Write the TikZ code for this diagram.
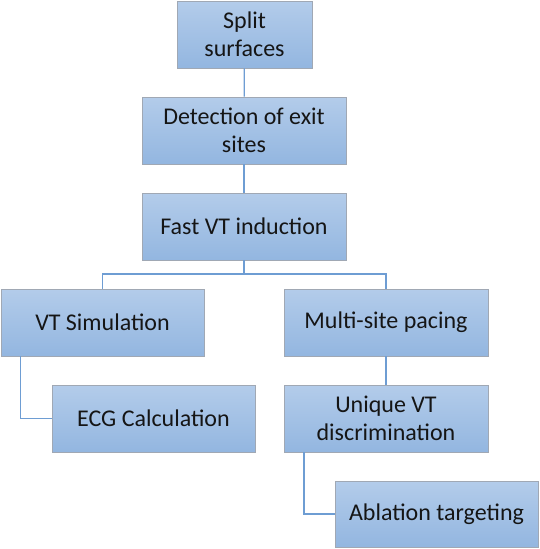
\documentclass[tikz,border=0pt]{standalone}
\usepackage{fontspec}
\setmainfont{Carlito}
\definecolor{boxtop}{HTML}{B3CCEA}
\definecolor{boxbot}{HTML}{93B6E0}
\definecolor{boxedge}{HTML}{A0A8B4}
\definecolor{linkblue}{HTML}{6E9DD3}
\definecolor{txt}{HTML}{151515}
\begin{document}
\begin{tikzpicture}[x=1pt,y=-1pt,
  box/.style={rectangle, draw=boxedge, line width=0.9pt, top color=boxtop, bottom color=boxbot,
    minimum height=67pt, minimum width=204pt, inner sep=0pt, align=center, text=txt,
    font=\fontsize{24}{27.5}\selectfont},
  link/.style={draw=linkblue, line width=1.3pt}]
\useasboundingbox (0,0) rectangle (540,549);
\node[box, minimum width=135pt] (split) at (244.5,34.5) {Split\\surfaces};
\node[box] (detect) at (244,130.5) {Detection of exit\\sites};
\node[box] (fast) at (244,226.5) {Fast VT induction};
\node[box, minimum width=203pt] (vtsim) at (102.5,322.5) {VT Simulation};
\node[box] (multi) at (386,322.5) {Multi-site pacing};
\node[box, minimum width=203pt] (ecg) at (153.5,418.5) {ECG Calculation};
\node[box] (unique) at (386,418.5) {Unique VT\\discrimination};
\node[box, minimum width=203pt, minimum height=66pt] (abl) at (436.5,514) {Ablation targeting};
\coordinate (bus) at (244,274);
\draw[link] (split) -- (detect);
\draw[link] (detect) -- (fast);
\draw[link] (fast) -- (bus);
\draw[link] (vtsim.north) |- (bus) -| (multi.north);
\draw[link] ([xshift=19.7pt]vtsim.south west) |- (ecg.west);
\draw[link] (multi) -- (unique);
\draw[link] ([xshift=20.3pt]unique.south west) |- (abl.west);
\end{tikzpicture}
\end{document}
